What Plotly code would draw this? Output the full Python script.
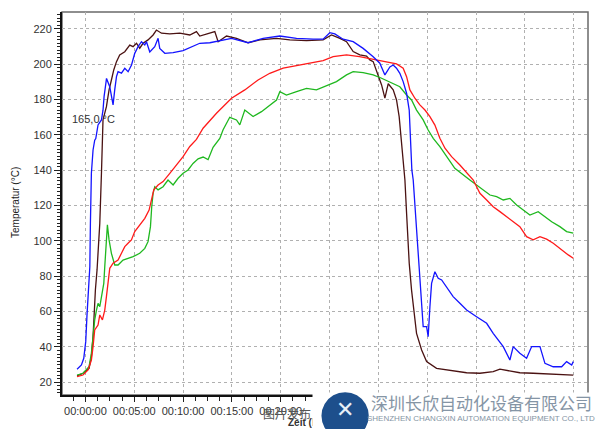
import plotly.graph_objects as go

# time in minutes, temperature in °C
blue_t = [-0.86,-0.41,-0.17,0.03,0.16,0.37,0.45,0.51,0.61,0.78,0.95,1.06,1.29,1.64,1.80,1.91,2.16,2.49,2.66,2.83,3.00,3.18,3.34,3.69,4.03,4.37,4.72,5.05,5.39,5.74,6.08,6.25,6.59,7.10,7.44,7.61,8.13,8.98,10.00,11.03,11.71,12.74,14.96,16.66,18.20,19.91,21.62,23.32,24.34,25.03,25.54,26.39,27.42,28.44,29.47,30.15,30.67,31.18,31.52,31.86,32.20,32.54,32.89,33.16,33.30,33.43,33.57,33.74,34.08,34.43,34.59,34.94,35.10,35.28,35.45,35.79,36.13,36.48,36.99,37.66,38.35,39.04,40.06,41.09,41.76,42.79,43.47,43.81,44.49,45.18,45.70,46.55,47.06,47.91,48.77,49.28,49.80,49.96]
blue_v = [27.4,29.8,33.6,43.0,58.0,74.0,85.4,110.0,138.3,151.5,157.0,158.0,165.7,168.5,174.0,181.7,192.0,187.3,181.7,177.0,185.5,193.0,195.8,195.0,197.7,195.8,199.6,206.2,210.0,212.8,211.0,212.8,207.0,210.0,214.7,209.0,206.2,206.6,207.7,210.4,211.9,212.2,214.7,212.2,214.7,216.0,214.7,214.2,214.2,217.9,217.2,214.2,212.8,209.0,204.3,200.6,194.0,198.5,199.6,197.8,194.9,190.2,183.6,174.1,159.0,140.2,134.5,121.3,91.1,62.8,51.5,51.5,45.8,62.8,76.0,82.6,78.9,77.9,74.1,68.5,64.7,60.9,57.1,53.4,47.7,40.2,32.6,40.2,36.4,33.6,40.2,40.2,30.7,28.8,28.8,31.7,29.8,31.7]

brown_t = [-0.86,-0.25,0.37,0.61,0.78,0.88,1.02,1.19,1.47,1.64,1.74,1.80,2.15,2.42,2.66,2.90,3.18,3.51,4.03,4.54,4.88,5.23,5.56,5.90,6.41,6.93,7.27,7.79,8.64,9.66,10.69,11.37,11.71,12.74,13.25,13.59,14.45,15.47,16.66,17.86,19.57,20.93,22.64,24.34,25.20,26.06,26.74,27.42,28.10,28.79,29.13,29.47,29.82,30.33,30.67,31.01,31.52,31.86,32.13,32.38,32.54,32.72,32.89,33.16,33.40,33.64,33.91,34.43,34.94,35.96,37.33,39.04,40.40,41.76,42.45,43.14,44.49,45.86,47.23,48.59,49.96]
brown_v = [23.6,25.1,27.9,34.5,45.8,60.9,72.2,83.6,110.0,138.3,157.2,168.5,176.0,185.5,191.1,196.8,201.5,205.3,207.1,210.9,210.0,211.9,209.1,211.9,213.8,216.6,219.4,217.6,217.2,217.6,216.6,218.5,216.0,217.6,218.5,212.8,216.0,214.7,212.2,213.8,214.7,213.8,213.4,213.8,216.6,214.7,212.8,207.2,205.3,204.7,202.5,201.5,195.8,188.3,180.8,189.0,185.5,179.8,170.4,155.3,142.1,134.5,115.7,87.4,72.2,59.0,47.7,38.3,31.7,27.9,26.6,25.4,25.1,26.0,27.4,26.6,25.4,25.1,24.7,24.5,24.1]

red_t = [-0.86,-0.25,0.27,0.61,0.78,0.95,1.29,1.47,1.74,1.98,2.15,2.32,2.49,2.83,3.34,3.69,4.03,4.36,4.71,5.05,5.56,6.08,6.52,6.76,7.00,7.44,7.95,8.64,9.32,10.00,10.69,11.37,12.05,13.42,14.96,16.32,17.68,18.88,20.25,21.62,22.98,24.34,25.37,26.74,28.07,29.47,30.49,31.18,31.86,32.54,32.89,33.23,33.74,34.25,34.77,35.28,35.79,36.30,36.82,37.50,38.35,39.72,40.40,41.09,41.76,42.45,43.14,43.81,44.49,45.18,45.86,46.55,47.23,47.91,48.77,49.45,49.96]
red_v = [23.2,24.1,27.0,32.6,40.2,49.6,52.4,58.1,55.3,60.9,68.5,76.0,84.5,87.4,89.2,93.0,96.8,98.7,100.6,105.3,109.1,112.8,117.5,123.2,128.9,131.7,133.6,138.3,143.0,147.7,153.5,157.5,163.8,172.3,180.8,185.5,191.1,194.9,197.8,199.1,200.6,202.1,204.3,205.3,204.3,202.8,201.5,201.0,200.2,197.8,193.0,185.5,180.8,177.0,174.1,170.4,165.6,158.1,152.5,147.7,143.0,134.5,127.0,123.2,119.4,116.6,113.7,110.9,108.1,102.4,100.6,102.4,101.0,98.7,94.9,92.1,90.2]

green_t = [-0.86,-0.25,0.37,0.61,0.78,0.95,1.13,1.29,1.47,1.64,1.88,1.98,2.15,2.25,2.42,2.66,3.00,3.34,3.85,4.36,4.88,5.56,6.08,6.41,6.66,6.79,6.93,7.10,7.44,7.95,8.46,8.98,9.49,10.00,10.51,11.02,11.54,12.05,12.56,13.07,13.76,14.10,14.78,15.47,15.81,16.32,16.83,17.17,18.03,18.88,19.57,19.91,20.59,21.62,22.64,23.66,24.69,25.71,26.74,27.42,28.44,29.47,30.33,31.01,32.20,32.89,33.40,33.91,34.59,35.10,35.62,36.30,36.99,37.83,39.37,40.06,40.74,41.43,42.11,42.79,43.47,44.16,44.84,45.52,46.37,47.06,47.75,48.59,49.28,49.96]
green_v = [24.1,25.1,28.8,36.4,45.8,55.3,60.9,64.7,62.8,68.5,76.0,85.5,100.6,109.1,100.6,93.0,86.4,86.4,89.2,90.2,91.1,93.0,95.8,99.6,108.1,119.4,127.0,130.7,128.9,130.7,134.5,131.7,135.5,138.3,140.2,143.9,146.5,147.5,146.0,153.0,158.0,163.0,170.0,168.5,165.7,174.1,172.0,170.4,173.2,177.0,179.8,184.5,182.6,184.5,186.4,185.5,187.7,190.2,194.0,195.8,195.3,194.0,192.1,190.2,187.3,182.6,179.8,174.1,168.5,162.8,158.1,153.4,147.7,141.1,134.5,131.7,128.9,126.0,125.1,123.2,124.1,120.4,117.5,114.7,116.6,113.7,110.9,108.1,105.3,104.4]

tick_vals = [0, 5, 10, 15, 20, 25, 30, 35, 40, 45, 50]
tick_text = ["00:00:00", "00:05:00", "00:10:00", "00:15:00", "00:20:00", "", "", "", "", "", ""]
limit_value = 165.0
limit_label = "165,0 °C"

FONT = "Liberation Sans, Arial, sans-serif"

fig = go.Figure()
series = [
    (brown_t, brown_v, "#4a1212"),
    (green_t, green_v, "#1fb81f"),
    (red_t, red_v, "#ff1a1a"),
    (blue_t, blue_v, "#1414ff"),
]
for t, v, c in series:
    fig.add_trace(go.Scatter(x=t, y=v, mode="lines", line=dict(color=c, width=1.3),
                             showlegend=False, hoverinfo="skip"))

fig.add_hline(y=limit_value, line=dict(color="#5c5c5c", width=2))

fig.update_layout(
    width=600, height=429,
    margin=dict(l=62, r=12, t=12, b=34),
    paper_bgcolor="white", plot_bgcolor="white",
    font=dict(family=FONT, size=11, color="#333333"),
    shapes=[dict(type="rect", xref="paper", yref="paper", x0=0, x1=1, y0=0, y1=1,
                 line=dict(color="#6a6a6a", width=1.5), layer="below")],
)
fig.update_xaxes(
    range=[-2.4, 51.47], tickvals=tick_vals, ticktext=tick_text,
    showgrid=True, gridcolor="#b0b0b0", griddash="dot", gridwidth=1,
    zeroline=False, showline=True, linecolor="#111111", linewidth=2,
    ticks="outside", ticklen=5, tickcolor="#222222",
    minor=dict(dtick=1.25, tick0=0, ticks="outside", ticklen=4, tickcolor="#222222", showgrid=False),
    tickfont=dict(size=11, color="#333333"),
)
fig.update_yaxes(
    range=[12.8, 229.6], tickvals=[20, 40, 60, 80, 100, 120, 140, 160, 180, 200, 220],
    showgrid=True, gridcolor="#b0b0b0", griddash="dot", gridwidth=1,
    zeroline=False, showline=True, linecolor="#111111", linewidth=2,
    ticks="outside", ticklen=6, tickcolor="#222222",
    minor=dict(dtick=2, tick0=0, ticks="outside", ticklen=3, tickcolor="#222222", showgrid=False),
    tickfont=dict(size=11, color="#333333"),
)

W, H = 526.0, 383.0
def px(x):
    return (x - 62) / W
def py(y):
    return (395 - y) / H

def note(text, x, y, **kw):
    d = dict(text=text, x=px(x), y=py(y), xref="paper", yref="paper",
             xanchor="center", yanchor="middle", showarrow=False)
    d.update(kw)
    return d

annotations = [
    dict(text=limit_label, x=-1.6, y=limit_value, xref="x", yref="y", xanchor="left", yanchor="bottom",
         showarrow=False, font=dict(size=11, color="#333333"), yshift=-1),
    note("Temperatur (°C)", 15, 203, textangle=-90, font=dict(size=10, color="#222222")),
    note("<b>Zeit (hh:mm:ss)</b>", 325, 423, font=dict(size=10, color="#333333")),
    note("图片发布", 287, 413, font=dict(family="Noto Sans CJK SC", size=12, color="#555555")),
    dict(text=".", x=px(312), y=py(392), xref="paper", yref="paper", xanchor="left", yanchor="top",
         width=296, height=40, bgcolor="#ffffff", showarrow=False, borderpad=0,
         font=dict(size=4, color="#ffffff")),
    note("●", 345, 410, font=dict(family="DejaVu Sans", size=62, color="#1d4f8c")),
    note("<b>✕</b>", 345, 409, font=dict(family="DejaVu Sans", size=22, color="#e8f0f8")),
    note("深圳长欣自动化设备有限公司", 481, 402, font=dict(family="Noto Sans CJK SC", size=17, color="#8595a5")),
    note("SHENZHEN CHANGXIN AUTOMATION EQUIPMENT CO., LTD", 481, 418,
         font=dict(family="Liberation Sans", size=8, color="#8595a5")),
]
fig.update_layout(annotations=annotations)

fig.write_html("out.html", config={"displayModeBar": False},
               post_script="document.body.style.margin='0px';document.body.style.padding='0px';")
